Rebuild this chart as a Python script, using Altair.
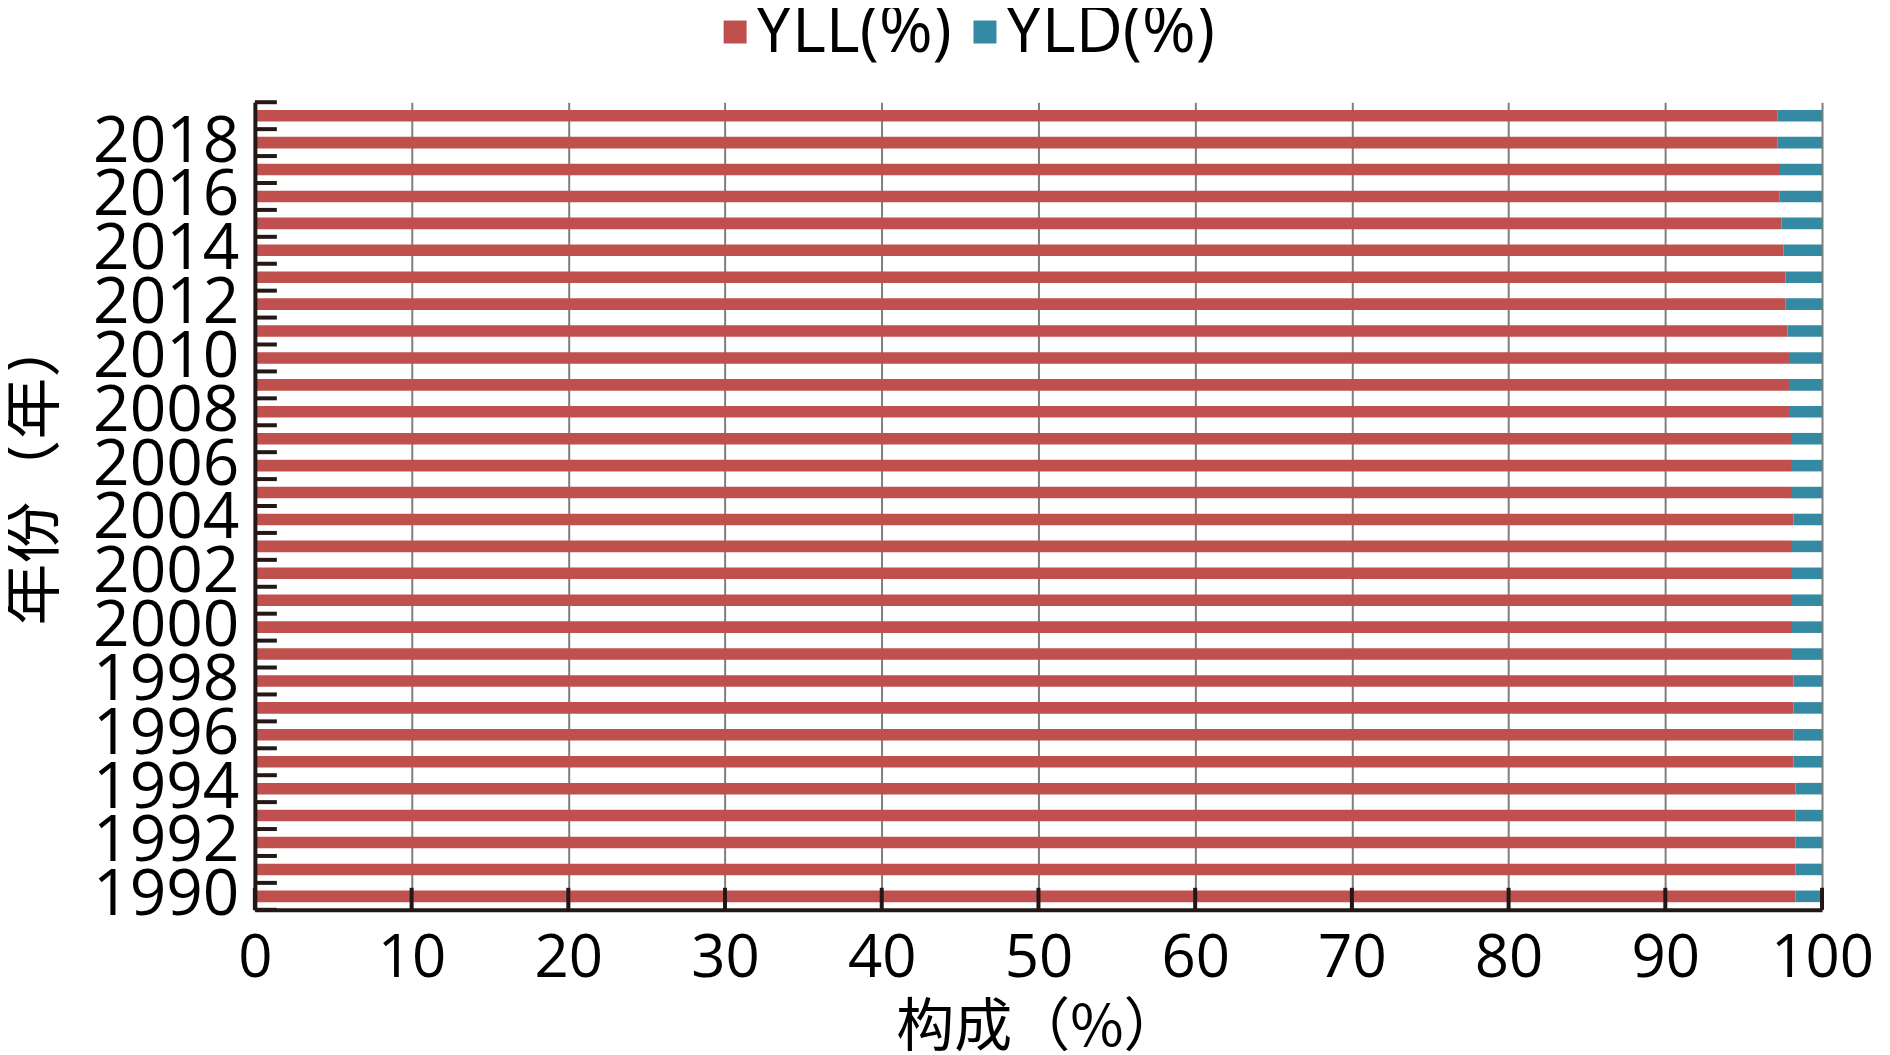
import altair as alt
import pandas as pd

years = list(range(1990, 2020))
yld = [1.70, 1.70, 1.70, 1.70, 1.70,
       1.83, 1.83, 1.83, 1.83,
       1.98, 1.98, 1.98, 1.98, 1.98,
       1.83,
       1.98, 1.98, 1.98,
       2.11, 2.11, 2.11,
       2.21,
       2.34, 2.34,
       2.47, 2.58, 2.70, 2.68, 2.83, 2.83]
yll = [round(100 - v, 2) for v in yld]
series = ["YLL(%)", "YLD(%)"]
colors = ["#C0504D", "#3489A3"]
x_ticks = list(range(0, 101, 10))
label_years = list(range(1990, 2019, 2))

rows = []
for yr, a, b in zip(years, yll, yld):
    rows.append({"year": yr, "series": series[0], "value": a, "order": 0})
    rows.append({"year": yr, "series": series[1], "value": b, "order": 1})
df = pd.DataFrame(rows)

W, H = 1568, 808
P_IN, P_OUT = 0.57, 0.285
step = H / len(years)
INK = "#231815"

x_axis = alt.Axis(values=x_ticks, title="构成（%）", grid=True, gridColor="#7f7f7f",
                  gridWidth=2, ticks=False, domainColor=INK, domainWidth=4,
                  labelFont="Open Sans", labelFontSize=60, labelColor="#000000",
                  labelPadding=20, labelFlush=False, labelOverlap=False,
                  titleFont="Noto Sans CJK SC", titleFontSize=58, titleFontWeight="normal",
                  titleColor="#000000", titlePadding=11, zindex=0)
y_axis = alt.Axis(values=label_years, title="年份（年）", ticks=False, domainColor=INK,
                  domainWidth=4, labelFont="Open Sans", labelFontSize=64,
                  labelColor="#000000", labelPadding=16, labelOverlap=False,
                  labelAngle=0, labelBaseline="middle",
                  titleFont="Noto Sans CJK SC", titleFontSize=62, titleFontWeight="normal",
                  titleColor="#000000", titlePadding=26, titleY=368, zindex=1)

x_scale = alt.Scale(domain=[0, 100], nice=False, zero=True)
y_scale = alt.Scale(paddingInner=P_IN, paddingOuter=P_OUT)

x_enc = alt.X("value:Q", stack="zero", scale=x_scale, axis=x_axis)
y_enc = alt.Y("year:O", sort="descending", scale=y_scale, axis=y_axis)

bars = alt.Chart(df).mark_bar(strokeWidth=0).encode(
    x=x_enc,
    y=y_enc,
    color=alt.Color("series:N", scale=alt.Scale(domain=series, range=colors),
                    legend=alt.Legend(orient="none", legendX=448, legendY=-103,
                                      direction="horizontal", title=None,
                                      labelFont="Open Sans", labelFontSize=65,
                                      labelColor="#000000", symbolType="square",
                                      symbolSize=529, symbolStrokeWidth=0,
                                      labelOffset={"expr": "-12"},
                                      columnPadding=0,
                                      labelLimit=0)),
    order=alt.Order("order:Q"),
)

ydf = pd.DataFrame({"year": years})
left_ticks = alt.Chart(ydf).mark_rule(color=INK, strokeWidth=4).encode(
    y=y_enc,
    yOffset=alt.value(step * (1 - P_OUT)),
    x=alt.value(0),
    x2=alt.value(22),
)
top_tick = alt.Chart(pd.DataFrame({"year": [years[-1]]})).mark_rule(color=INK, strokeWidth=4).encode(
    y=y_enc,
    yOffset=alt.value(-step * P_OUT),
    x=alt.value(0),
    x2=alt.value(22),
)
bottom_ticks = alt.Chart(pd.DataFrame({"value": x_ticks})).mark_rule(color=INK, strokeWidth=4).encode(
    x=alt.X("value:Q", scale=x_scale, axis=x_axis),
    y=alt.value(H),
    y2=alt.value(H - 22),
)

chart = alt.layer(bars, left_ticks, top_tick, bottom_ticks).properties(
    width=W, height=H,
    autosize=alt.AutoSizeParams(type="none"),
    padding={"left": 247, "top": 94, "right": 60, "bottom": 145},
).configure_view(stroke=None)

chart.save("out.html", embed_options={"renderer": "svg", "actions": False})
